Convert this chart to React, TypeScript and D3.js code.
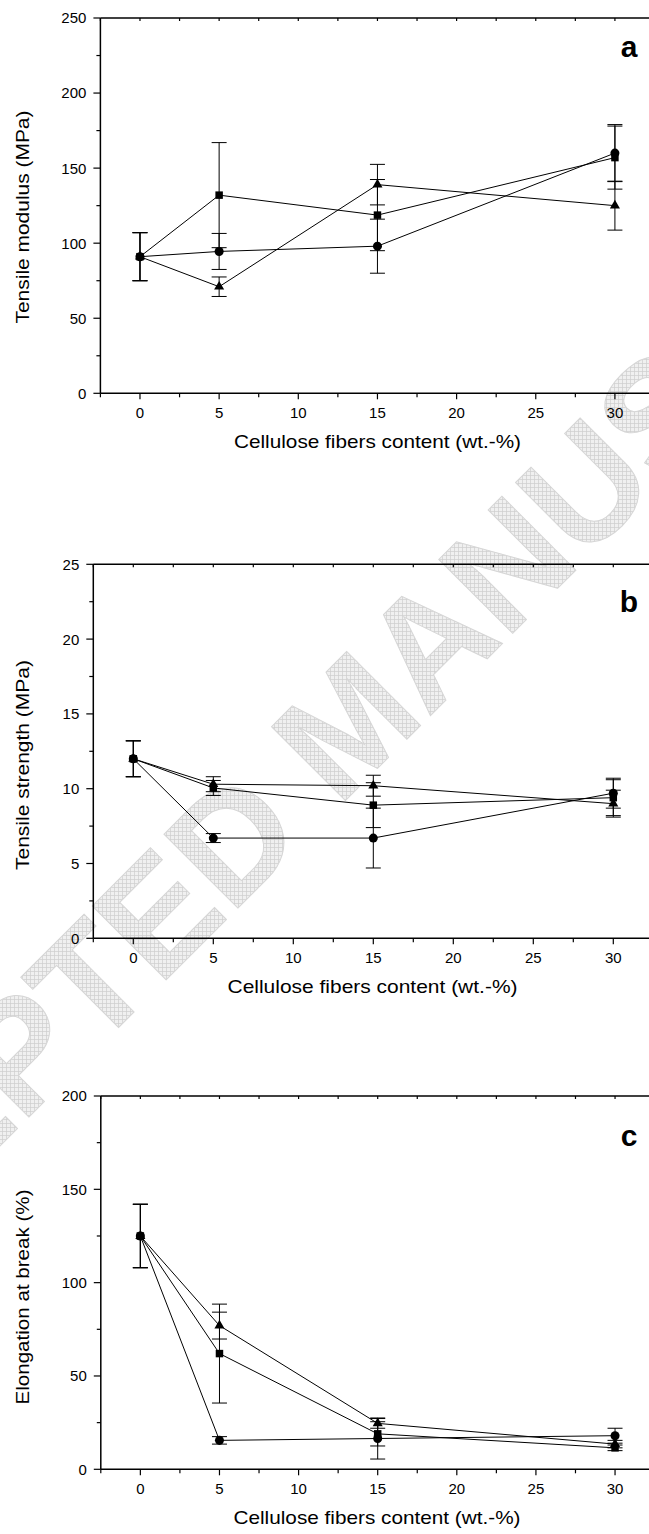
import React from "react";
import * as d3 from "d3";

// fiber content (wt.-%) shared by all three panels
const fiber = [0, 5, 15, 30];
const xTickLabels = [0, 5, 10, 15, 20, 25, 30];

// a: tensile modulus (MPa)
const modulusSquare = [91, 132, 118.7, 157];
const modulusSquareErr = [16, 35, 23.7, 21];
const modulusCircle = [91, 94.5, 98, 160];
const modulusCircleErr = [16, 12, 18, 19];
const modulusTriangle = [91, 71, 139, 125];
const modulusTriangleErr = [16, 6.5, 13.5, 16.3];

// b: tensile strength (MPa)
const strengthSquare = [12, 10.05, 8.9, 9.4];
const strengthSquareErr = [1.2, 0.5, 1.5, 1.2];
const strengthCircle = [12, 6.7, 6.7, 9.7];
const strengthCircleErr = [1.2, 0.3, 2, 1];
const strengthTriangle = [12, 10.3, 10.2, 9.0];
const strengthTriangleErr = [1.2, 0.5, 0.7, 0.9];

// c: elongation at break (%)
const elongSquare = [125, 62, 19, 11.5];
const elongSquareErr = [17, 26.5, 6.5, 1.5];
const elongCircle = [125, 15.5, 16.5, 18];
const elongCircleErr = [17, 2, 11, 4];
const elongTriangle = [125, 77, 24.6, 13.5];
const elongTriangleErr = [17, 7.2, 2.6, 2];

const FONT = "'Liberation Sans', Arial, sans-serif";

// drawn in this order, so the square ends up on top
const shapes = [
  { type: d3.symbolTriangle, size: 44 },
  { type: d3.symbolCircle, size: 64 },
  { type: d3.symbolSquare, size: 56 },
];

type Series = { values: number[]; errors: number[] };

function Panel(props: any) {
  const { left, right, top, bottom, yMax, yStep, yLabel, yLabelY, yLabelLen, xLabelX, xLabelLen, tag, tagY, series } = props;

  const x = d3.scaleLinear().domain([-2.5, 32.5]).range([left, right]);
  const y = d3.scaleLinear().domain([0, yMax]).range([bottom, top]);

  const line = d3.line<number>()
    .x((d, i) => x(fiber[i]))
    .y((d) => y(d));

  const yTicks = d3.range(0, yMax + 1e-9, yStep / 2);
  const xTicks = d3.range(-2.5, 32.5 + 1e-9, 2.5);

  return (
    <g>
      {/* frame */}
      <g stroke="#000" strokeWidth={1.5} fill="none">
        <line x1={left} x2={left} y1={top} y2={bottom} />
        <line x1={left} x2={right} y1={bottom} y2={bottom} />
        <line x1={left} x2={right} y1={top} y2={top} />
        <line x1={right} x2={right} y1={top} y2={bottom} />
      </g>

      {/* y ticks */}
      {yTicks.map((t, i) => {
        const major = i % 2 === 0;
        return (
          <g key={"y" + i}>
            <line x1={left - (major ? 7 : 4)} x2={left} y1={y(t)} y2={y(t)} stroke="#000" strokeWidth={1.2} />
            {major && (
              <text x={left - 14} y={y(t)} dy="0.36em" textAnchor="end" fontSize={15} fontFamily={FONT}>
                {t}
              </text>
            )}
          </g>
        );
      })}

      {/* x ticks, bottom and top */}
      {xTicks.map((t, i) => {
        const major = Math.abs(t % 5) < 1e-9;
        return (
          <g key={"x" + i} stroke="#000" strokeWidth={1.2}>
            <line x1={x(t)} x2={x(t)} y1={bottom} y2={bottom + (major ? 6 : 4)} />
            <line x1={x(t)} x2={x(t)} y1={top} y2={top + 3} />
          </g>
        );
      })}
      {xTickLabels.map((t) => (
        <text key={"xl" + t} x={x(t)} y={bottom + 25} textAnchor="middle" fontSize={15} fontFamily={FONT}>
          {t}
        </text>
      ))}

      {/* axis titles */}
      <text
        x={xLabelX}
        y={bottom + 55}
        textAnchor="middle"
        fontSize={19}
        fontFamily={FONT}
        textLength={xLabelLen}
        lengthAdjust="spacingAndGlyphs"
      >
        Cellulose fibers content (wt.-%)
      </text>
      <text
        transform={`translate(29,${yLabelY}) rotate(-90)`}
        textAnchor="middle"
        fontSize={18}
        fontFamily={FONT}
        textLength={yLabelLen}
        lengthAdjust="spacingAndGlyphs"
      >
        {yLabel}
      </text>

      <text x={629} y={tagY} textAnchor="middle" fontSize={30} fontWeight="bold" fontFamily={FONT}>
        {tag}
      </text>

      {/* connecting lines */}
      {series.map((s: Series, k: number) => (
        <path key={"l" + k} d={line(s.values) || ""} fill="none" stroke="#000" strokeWidth={1} />
      ))}

      {/* error bars */}
      {series.map((s: Series, k: number) => (
        <g key={"e" + k} stroke="#000" strokeWidth={1}>
          {s.values.map((v, i) => {
            const cx = x(fiber[i]);
            const hi = y(v + s.errors[i]);
            const lo = y(v - s.errors[i]);
            return (
              <g key={i}>
                <line x1={cx} x2={cx} y1={hi} y2={lo} />
                <line x1={cx - 7.5} x2={cx + 7.5} y1={hi} y2={hi} />
                <line x1={cx - 7.5} x2={cx + 7.5} y1={lo} y2={lo} />
              </g>
            );
          })}
        </g>
      ))}

      {/* markers */}
      {series.map((s: Series, k: number) => {
        const sym = d3.symbol().type(shapes[k].type).size(shapes[k].size)();
        return (
          <g key={"m" + k}>
            {s.values.map((v, i) => (
              <path key={i} d={sym || ""} transform={`translate(${x(fiber[i])},${y(v)})`} fill="#000" />
            ))}
          </g>
        );
      })}
    </g>
  );
}

export default function App() {
  return (
    <svg
      width={649}
      height={1534}
      style={{ position: "absolute", left: 0, top: 0, background: "#fff" }}
    >
      <defs>
        <pattern id="hatch" width="4" height="4" patternUnits="userSpaceOnUse" patternTransform="rotate(-45)">
          <rect width="4" height="4" fill="#f0f0f0" />
          <path d="M0,0.5 L4,0.5 M0.5,0 L0.5,4" stroke="#cfcfcf" strokeWidth="0.7" />
        </pattern>
      </defs>
      <rect width={649} height={1534} fill="#fff" />

      {/* watermark */}
      <text
        transform="translate(386,760) rotate(-45)"
        textAnchor="middle"
        fontSize={152}
        fontWeight="bold"
        fontFamily={FONT}
        fill="url(#hatch)"
        stroke="#d6d6d6"
        strokeWidth={1}
      >
        ACCEPTED MANUSCRIPT
      </text>

      <Panel
        left={100.4}
        right={654.5}
        top={18}
        bottom={393.3}
        yMax={250}
        yStep={50}
        yLabel="Tensile modulus (MPa)"
        yLabelY={217}
        yLabelLen={213}
        xLabelX={377.5}
        xLabelLen={287}
        tag="a"
        tagY={57}
        series={[
          { values: modulusTriangle, errors: modulusTriangleErr },
          { values: modulusCircle, errors: modulusCircleErr },
          { values: modulusSquare, errors: modulusSquareErr },
        ]}
      />
      <Panel
        left={93.3}
        right={653.3}
        top={564.3}
        bottom={938.3}
        yMax={25}
        yStep={5}
        yLabel="Tensile strength (MPa)"
        yLabelY={765}
        yLabelLen={210}
        xLabelX={372.5}
        xLabelLen={290}
        tag="b"
        tagY={611.5}
        series={[
          { values: strengthTriangle, errors: strengthTriangleErr },
          { values: strengthCircle, errors: strengthCircleErr },
          { values: strengthSquare, errors: strengthSquareErr },
        ]}
      />
      <Panel
        left={100.8}
        right={654.6}
        top={1096}
        bottom={1469.3}
        yMax={200}
        yStep={50}
        yLabel="Elongation at break (%)"
        yLabelY={1297}
        yLabelLen={215}
        xLabelX={377}
        xLabelLen={287}
        tag="c"
        tagY={1146}
        series={[
          { values: elongTriangle, errors: elongTriangleErr },
          { values: elongCircle, errors: elongCircleErr },
          { values: elongSquare, errors: elongSquareErr },
        ]}
      />
    </svg>
  );
}
